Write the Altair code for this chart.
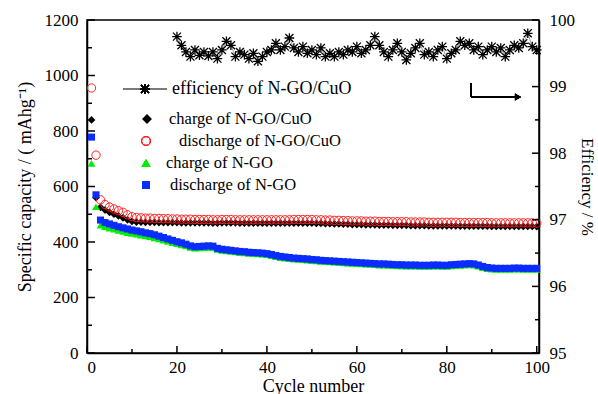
import altair as alt
import pandas as pd

# ---------------- data ----------------
cycles = list(range(1, 101))

charge_cuo = [840, 560, 525, 515, 507, 500, 494, 487, 480, 474,
              472, 472, 471, 471, 471, 470, 470, 470, 470, 470,
              469, 469, 469, 469, 469, 469, 469, 468, 468, 469,
              469, 469, 469, 468, 468, 468, 468, 468, 468, 468,
              468, 468, 468, 468, 468, 468, 468, 468, 468, 468,
              467, 467, 466, 466, 465, 465, 464, 464, 463, 463,
              463, 462, 462, 462, 461, 461, 461, 460, 460, 460,
              460, 459, 459, 459, 459, 458, 458, 458, 458, 458,
              458, 458, 457, 457, 457, 457, 457, 457, 457, 456,
              456, 456, 456, 456, 456, 456, 456, 456, 456, 455]

discharge_cuo = [955, 713, 552, 535, 526, 519, 513, 507, 498, 491,
                 488, 487, 486, 486, 485, 485, 484, 484, 483, 483,
                 482, 482, 482, 481, 481, 481, 481, 480, 480, 481,
                 481, 481, 480, 480, 480, 480, 480, 480, 480, 480,
                 480, 480, 480, 480, 480, 481, 481, 481, 481, 481,
                 480, 480, 479, 479, 478, 478, 477, 477, 476, 476,
                 476, 475, 475, 475, 474, 474, 474, 473, 473, 473,
                 473, 472, 472, 472, 472, 471, 471, 471, 471, 471,
                 471, 471, 470, 470, 470, 470, 470, 470, 470, 469,
                 469, 469, 469, 469, 469, 469, 469, 469, 469, 468]

charge_ngo = [683, 527, 461, 455, 450, 446, 442, 438, 434, 431,
              428, 425, 422, 419, 415, 411, 407, 402, 398, 394,
              390, 386, 381, 378, 379, 380, 381, 380, 373, 370,
              368, 366, 364, 362, 361, 359, 358, 357, 356, 354,
              351, 347, 344, 342, 340, 338, 337, 336, 335, 333,
              332, 330, 329, 328, 327, 326, 325, 324, 323, 322,
              321, 320, 319, 318, 317, 317, 316, 315, 314, 314,
              313, 313, 313, 312, 312, 312, 313, 313, 312, 312,
              314, 315, 316, 317, 318, 317, 313, 308, 304, 302,
              301, 301, 301, 301, 302, 302, 301, 301, 301, 301]

discharge_ngo = [778, 570, 479, 470, 465, 460, 455, 451, 447, 443,
                 440, 437, 433, 430, 426, 421, 416, 411, 406, 401,
                 397, 392, 386, 383, 384, 385, 386, 385, 377, 374,
                 372, 370, 368, 366, 365, 363, 362, 361, 360, 358,
                 355, 351, 348, 346, 344, 342, 341, 340, 339, 337,
                 336, 334, 333, 332, 331, 330, 329, 328, 327, 326,
                 325, 324, 323, 322, 321, 321, 320, 319, 318, 318,
                 317, 317, 317, 316, 316, 316, 317, 317, 316, 316,
                 318, 319, 320, 321, 322, 321, 317, 312, 308, 306,
                 305, 305, 305, 305, 306, 306, 305, 305, 305, 305]

eff_cycles = list(range(20, 101))
efficiency = [99.75, 99.62, 99.52, 99.45, 99.55, 99.47, 99.52, 99.46, 99.52, 99.42,
              99.55, 99.68, 99.62, 99.45, 99.52, 99.48, 99.42, 99.50, 99.38, 99.45,
              99.52, 99.55, 99.65, 99.55, 99.60, 99.73, 99.58, 99.52, 99.60, 99.50,
              99.55, 99.48, 99.58, 99.45, 99.50, 99.45, 99.52, 99.48, 99.55, 99.52,
              99.60, 99.50, 99.55, 99.62, 99.75, 99.62, 99.52, 99.45, 99.55, 99.65,
              99.52, 99.40, 99.50, 99.58, 99.65, 99.48, 99.52, 99.45, 99.55, 99.60,
              99.42, 99.50, 99.55, 99.68, 99.62, 99.65, 99.55, 99.60, 99.48, 99.55,
              99.60, 99.52, 99.58, 99.45, 99.55, 99.62, 99.58, 99.65, 99.80, 99.60,
              99.55]

x_ticks_major = [0, 20, 40, 60, 80, 100]
x_ticks_minor = [10, 30, 50, 70, 90]
cap_ticks_major = [0, 200, 400, 600, 800, 1000, 1200]
cap_ticks_minor = [100, 300, 500, 700, 900, 1100]
eff_ticks_major = [95, 96, 97, 98, 99, 100]
eff_ticks_minor = [95.5, 96.5, 97.5, 98.5, 99.5]

legend_labels = ["efficiency of N-GO/CuO", "charge of N-GO/CuO",
                 "discharge of N-GO/CuO", "charge of N-GO", "discharge of N-GO"]

# ---------------- setup ----------------
W, H = 452, 333
FONT = "Liberation Serif"
STAR = "M-1,-1L1,1M-1,1L1,-1M0,-1.2L0,1.2M-1.2,0L1.2,0"

xscale = alt.Scale(domain=[0, 100.5], nice=False, zero=False)
cap_scale = alt.Scale(domain=[0, 1200], nice=False)
eff_scale = alt.Scale(domain=[95, 100], nice=False, zero=False)

cap = pd.DataFrame({
    "cycle": cycles,
    "charge_cuo": charge_cuo,
    "discharge_cuo": discharge_cuo,
    "charge_ngo": charge_ngo,
    "discharge_ngo": discharge_ngo,
})
eff = pd.DataFrame({"cycle": eff_cycles, "eff": efficiency})

x_axis = alt.Axis(title="Cycle number", values=x_ticks_major, tickSize=0, format="d",
                  labelPadding=6, titlePadding=2, grid=False)
left_axis = alt.Axis(title="Specific capacity / ( mAhg\u207B\u00B9)", format="d",
                     values=cap_ticks_major, tickSize=0, labelPadding=9,
                     titlePadding=10, grid=False)
right_axis = alt.Axis(title="Efficiency / %", orient="right", format="d",
                      values=eff_ticks_major, tickSize=0, labelPadding=10,
                      titlePadding=3, titleFontSize=17, grid=False)

def X(field):
    return alt.X(field, scale=xscale, axis=x_axis)

def YC(field):
    return alt.Y(field, scale=cap_scale, axis=left_axis)

def YE(field):
    return alt.Y(field, scale=eff_scale, axis=right_axis)

base = alt.Chart(cap)

black = base.mark_point(shape="diamond", filled=True, color="black", size=60, opacity=1).encode(
    x=X("cycle:Q"), y=YC("charge_cuo:Q"))
red = base.mark_point(shape="circle", filled=False, color="#ff2020", size=70,
                      strokeWidth=1, opacity=1).encode(
    x=X("cycle:Q"), y=YC("discharge_cuo:Q"))
green = base.mark_point(shape="triangle-up", filled=True, color="#00ee00", size=60, opacity=1).encode(
    x=X("cycle:Q"), y=YC("charge_ngo:Q"))
blue = base.mark_point(shape="square", filled=True, color="#0a2cff", size=50, opacity=1).encode(
    x=X("cycle:Q"), y=YC("discharge_ngo:Q"))

# inward ticks
def xt(vals, length):
    return alt.Chart(pd.DataFrame({"v": vals})).mark_rule(color="black", strokeWidth=1.5).encode(
        x=X("v:Q"), y=alt.value(H), y2=alt.value(H - length))

def lt(vals, length):
    return alt.Chart(pd.DataFrame({"v": vals})).mark_rule(color="black", strokeWidth=1.5).encode(
        y=YC("v:Q"), x=alt.value(0), x2=alt.value(length))

def rt(vals, length):
    return alt.Chart(pd.DataFrame({"v": vals})).mark_rule(color="black", strokeWidth=1.5).encode(
        y=YE("v:Q"), x=alt.value(W), x2=alt.value(W - length))

# legend (manual)
lg = alt.Chart(pd.DataFrame({"t": legend_labels}))
def ltext(i, x, y, size):
    return alt.Chart(pd.DataFrame({"t": [legend_labels[i]]})).mark_text(
        align="left", baseline="middle", font=FONT, fontSize=size, color="black").encode(
        text="t:N", x=alt.value(x), y=alt.value(y))

leg_line = lg.mark_rule(color="#777777", strokeWidth=1).encode(
    x=alt.value(36), x2=alt.value(80), y=alt.value(69))
leg_star = lg.mark_point(shape=STAR, filled=False, color="black", size=64, strokeWidth=1.3, opacity=1).encode(
    x=alt.value(58), y=alt.value(69))
leg_d = lg.mark_point(shape="diamond", filled=True, color="black", size=80, opacity=1).encode(
    x=alt.value(60), y=alt.value(99))
leg_c = lg.mark_point(shape="circle", filled=False, color="#ff2020", size=80, strokeWidth=1, opacity=1).encode(
    x=alt.value(59), y=alt.value(121))
leg_t = lg.mark_point(shape="triangle-up", filled=True, color="#00ee00", size=80, opacity=1).encode(
    x=alt.value(59), y=alt.value(143))
leg_s = lg.mark_point(shape="square", filled=True, color="#0a2cff", size=60, opacity=1).encode(
    x=alt.value(59), y=alt.value(165))

# arrow
arr_v = lg.mark_rule(color="black", strokeWidth=1.5).encode(
    x=alt.value(384), y=alt.value(63), y2=alt.value(77))
arr_h = lg.mark_rule(color="black", strokeWidth=1.5).encode(
    x=alt.value(384), x2=alt.value(430), y=alt.value(77))
arr_head = lg.mark_point(shape="triangle-right", filled=True, color="black", size=50, opacity=1).encode(
    x=alt.value(431), y=alt.value(77))

cap_group = alt.layer(
    black, red, green, blue,
    xt(x_ticks_major, 7), xt(x_ticks_minor, 4),
    lt(cap_ticks_major, 8), lt(cap_ticks_minor, 5),
    leg_line, leg_star, leg_d, leg_c, leg_t, leg_s,
    ltext(0, 85, 69, 18), ltext(1, 82, 99, 16.5), ltext(2, 92, 121, 16.5),
    ltext(3, 79, 143, 16.5), ltext(4, 83, 165, 16.5),
    arr_v, arr_h, arr_head,
)

ebase = alt.Chart(eff)
eff_line = ebase.mark_line(color="#888888", strokeWidth=0.8).encode(
    x=X("cycle:Q"), y=YE("eff:Q"))
eff_pts = ebase.mark_point(shape=STAR, filled=False, color="black", size=64, strokeWidth=1.3, opacity=1).encode(
    x=X("cycle:Q"), y=YE("eff:Q"))
eff_group = alt.layer(eff_line, eff_pts, rt(eff_ticks_major, 7), rt(eff_ticks_minor, 4))

chart = alt.layer(cap_group, eff_group).resolve_scale(y="independent").properties(
    width=W, height=H, autosize=alt.AutoSizeParams(type="none"),
    padding={"left": 87, "top": 20, "right": 59, "bottom": 41},
    background="white",
).configure_view(stroke="black", strokeWidth=1.5).configure_axis(
    labelFont=FONT, titleFont=FONT, labelFontSize=17, titleFontSize=18,
    labelColor="black", titleColor="black", titleFontWeight="normal",
    domainColor="black", domainWidth=1.5,
)

chart.save("out.html", embed_options={"renderer": "svg", "actions": False})
